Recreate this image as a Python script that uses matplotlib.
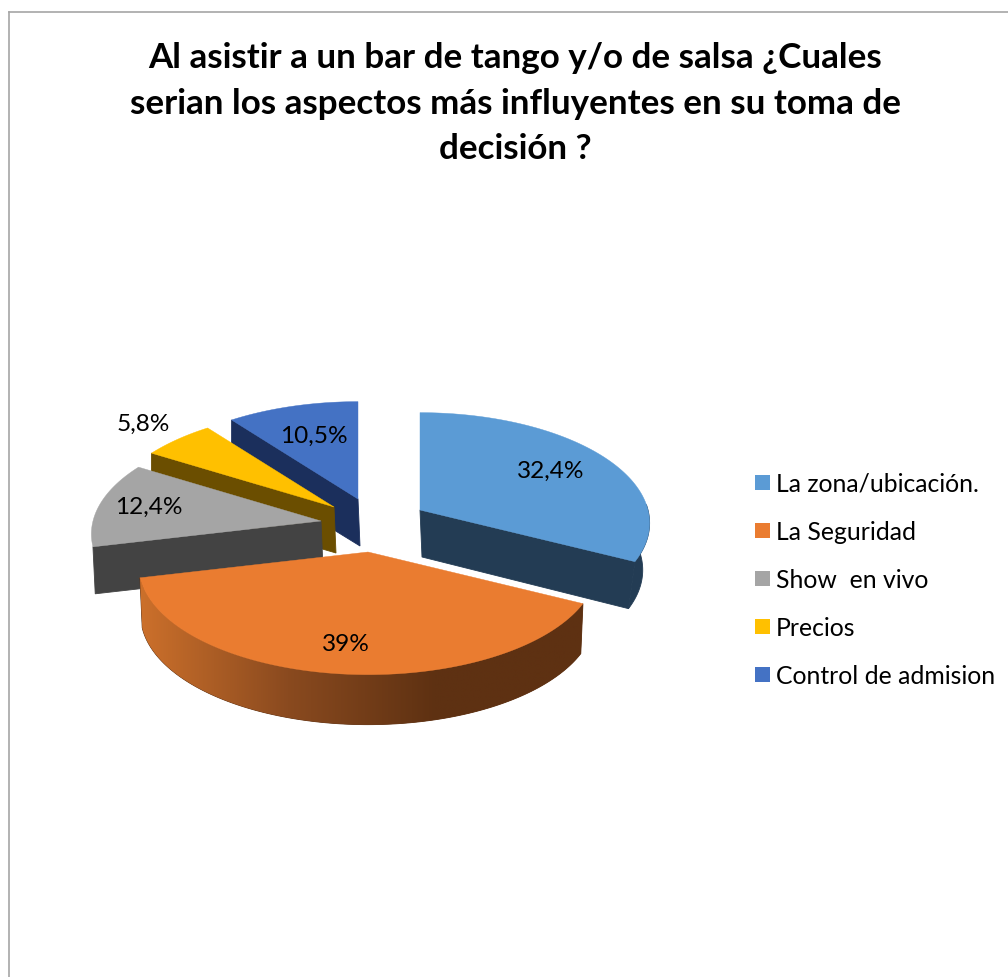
import numpy as np
import matplotlib
matplotlib.use("Agg")
import matplotlib.pyplot as plt
from matplotlib.colors import LinearSegmentedColormap
from matplotlib.patches import Polygon, Rectangle

title_lines = ["Al asistir a un bar de tango y/o de salsa ¿Cuales",
               "serian los aspectos más influyentes en su toma de",
               "decisión ?"]
categories = ["La zona/ubicación.", "La Seguridad", "Show  en vivo", "Precios", "Control de admision"]
values = [32.4, 39.0, 12.4, 5.8, 10.5]
value_labels = ["32,4%", "39%", "12,4%", "5,8%", "10,5%"]

top_colors = ["#5B9BD5", "#EA7C30", "#A5A5A5", "#FFC000", "#4472C4"]
side_colors = ["#233C54", "#5E3112", "#434343", "#6B4E00", "#1B2F5C"]
# exploded apex of each slice, in pixels
apex_x = [420, 368, 321, 334, 358]
apex_y = [510, 552, 521, 507, 499]
depths = [47, 50, 47, 46, 47]
bottom_scale = [0.97, 0.99, 0.99, 1.0, 1.0]
label_frac = [0.72, 0.76, 0.78, 1.22, 0.68]
draw_order = [4, 3, 2, 0, 1]

RX, RY, KX, KY = 228, 110, 0.12, 0.115

fig = plt.figure(figsize=(10.08, 9.77), dpi=100)
ax = fig.add_axes([0, 0, 1, 1])
ax.axis("off")

def proj(i, deg, frac=1.0):
    t = np.radians(deg)
    x = apex_x[i] + frac * RX * np.sin(t) * (1 - KX * np.cos(t))
    y = apex_y[i] - frac * RY * np.cos(t) * (1 - KY * np.cos(t))
    return x, y

# frame
ax.plot([9, 9], [977, 12], color="#A6A6A6", lw=1.2)
ax.plot([9, 1008], [12, 12], color="#A6A6A6", lw=1.2)

edges = np.concatenate([[0], np.cumsum(values)]) / sum(values) * 360
rim_cmap = LinearSegmentedColormap.from_list("rim", ["#CC702B", "#8A4A1F", "#5E3112", "#5E3112"])

z = 2
for i in draw_order:
    a0, a1 = edges[i], edges[i + 1]
    th = np.linspace(a0, a1, 160)
    xs, ys = proj(i, th)
    d = depths[i]
    s = bottom_scale[i]
    # cut face (blue shows its end edge, the rear slices their start edge)
    if i != 1:
        ang = a1 if i == 0 else a0
        ex, ey = proj(i, ang)
        ax.add_patch(Polygon([(apex_x[i], apex_y[i]), (ex, ey),
                              (apex_x[i] + (ex - apex_x[i]) * s, ey + d),
                              (apex_x[i] + 2, apex_y[i] + d)],
                             closed=True, fc=side_colors[i], ec=side_colors[i], lw=0.6, zorder=z))
    # outer rim, only on the two front slices
    if i in (0, 1):
        front = np.cos(np.radians(th)) < 0.05
        fx, fy = xs[front], ys[front]
        bx = apex_x[i] + (fx - apex_x[i]) * s
        rim = Polygon(list(zip(fx, fy)) + list(zip(bx[::-1], fy[::-1] + d)), closed=True,
                      fc=side_colors[i], ec=side_colors[i], lw=0.6, zorder=z)
        ax.add_patch(rim)
        if i == 1:
            img = ax.imshow(np.linspace(0, 1, 256)[None, :], cmap=rim_cmap, aspect="auto",
                            extent=(fx.min(), fx.max(), fy.max() + d, fy.min()), zorder=z + 0.5)
            img.set_clip_path(rim)
    # top surface
    ax.add_patch(Polygon([(apex_x[i], apex_y[i])] + list(zip(xs, ys)), closed=True,
                         fc=top_colors[i], ec=top_colors[i], lw=0.3, zorder=z + 1))
    z += 2

for i, lab in enumerate(value_labels):
    lx, ly = proj(i, (edges[i] + edges[i + 1]) / 2, label_frac[i])
    ax.text(lx, ly, lab, ha="center", va="center", fontsize=17.6, family="Lato", color="black", zorder=50)

for k, line in enumerate(title_lines):
    ax.text(515, 58 + k * 45.5, line, ha="center", va="center", fontsize=25.2,
            family="Lato", weight="bold", color="black", zorder=50)

for k, cat in enumerate(categories):
    yc = 483 + k * 48
    ax.add_patch(Rectangle((755, yc - 8), 15, 15, fc=top_colors[k], ec="none", zorder=50))
    ax.text(776, yc + 1, cat, ha="left", va="center", fontsize=17.8, family="Lato", color="black", zorder=50)

ax.set_xlim(0, 1008)
ax.set_ylim(977, 0)
fig.savefig("out.png", dpi=100)
